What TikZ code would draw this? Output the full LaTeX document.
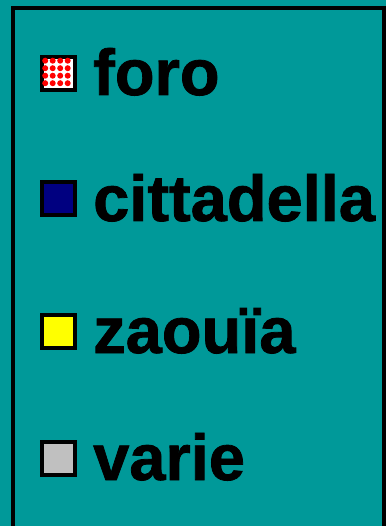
\documentclass[tikz,border=0pt]{standalone}
\usepackage{fontspec}
\setmainfont{Liberation Sans}
\newfontfamily\keyfont{Liberation Sans Bold}[FakeBold=1.2]
\usepackage{xcolor}
\definecolor{legTeal}{HTML}{009999}
\definecolor{legNavy}{HTML}{000080}
\definecolor{legYellow}{HTML}{FFFF00}
\definecolor{legGray}{HTML}{C0C0C0}
\definecolor{legRed}{HTML}{FF0000}
\usetikzlibrary{calc}

\begin{document}
\begin{tikzpicture}[x=1pt, y=-1pt,
    swatch/.style={draw=black, line width=4pt, minimum size=33pt, inner sep=0pt},
    entry/.style={anchor=base west, inner sep=0pt,
                  font=\fontsize{65}{65}\keyfont}]
  % ---------------- the panel ----------------
  \useasboundingbox (0,0) rectangle (386,526);
  \fill[legTeal] (0,0) rectangle (386,526);
  \clip (0,0) rectangle (386,526);
  \draw[line width=4pt] (13,8) rectangle (384,560);

  % ---------------- foro: red dots on white ----------------
  \node[swatch, fill=white] (foroKey) at (58.5,74) {};
  \foreach \i in {0,...,3} {
    \foreach \j in {0,...,3} {
      \fill[legRed] ($(foroKey.north west)+(5.2+\i*7.5,5.2+\j*7.5)$) circle (3);
    }
  }
  \node[entry] (foroText) at (93,95) {foro};

  % ---------------- the plain keys ----------------
  \foreach \n/\c/\y/\t in {citt/legNavy/199/cittadella,
                           zaou/legYellow/331/zaouïa,
                           vari/legGray/458/varie} {
    \node[swatch, fill=\c] (\n Key) at (58.5,\y) {};
    \node[entry] (\n Text) at (93,\y+22) {\t};
  }
\end{tikzpicture}
\end{document}
